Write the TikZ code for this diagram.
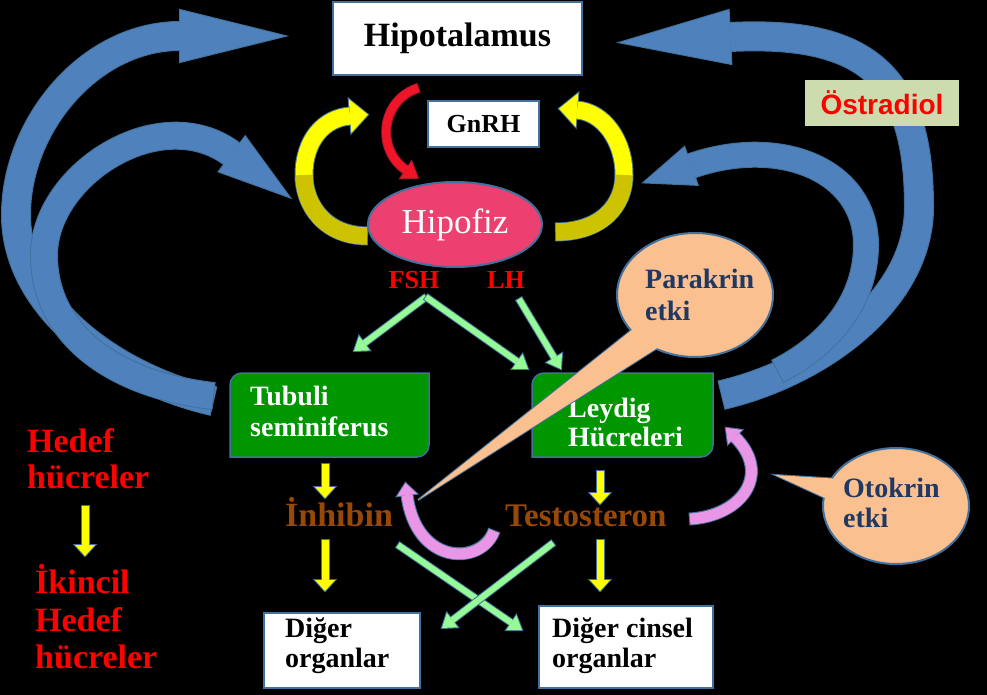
\documentclass[tikz,border=0pt]{standalone}
\usepackage{fontspec}
\setmainfont{Liberation Serif}
\newfontfamily\arialf{Liberation Sans}
\usetikzlibrary{calc,shapes.geometric}
\definecolor{edgec}{RGB}{65,113,156}
\definecolor{arrblue}{RGB}{79,129,189}
\definecolor{yel}{RGB}{255,255,0}
\definecolor{yeld}{RGB}{205,195,0}
\definecolor{hipo}{RGB}{236,64,112}
\definecolor{grbox}{RGB}{0,150,0}
\definecolor{lgr}{RGB}{150,250,150}
\definecolor{pinkv}{RGB}{233,150,230}
\definecolor{peach}{RGB}{250,192,144}
\definecolor{ostbox}{RGB}{205,220,175}
\definecolor{brownt}{RGB}{152,72,7}
\definecolor{navyt}{RGB}{31,56,100}
\definecolor{redt}{RGB}{255,0,0}
\definecolor{redarr}{RGB}{240,20,40}
\definecolor{redarrd}{RGB}{170,20,40}

% curved block arrow: #1 path, #2 end point, #3 last control, #4 width, #5 head half width, #6 head length, #7 fill, #8 border
\newcommand\carrow[8]{%
  \pgfmathsetmacro\cbw{#4+2}%
  \draw[draw=#8, line width=\cbw pt, shorten <=-1pt] #1;
  \coordinate (hT) at ($(#2)!-#6pt!(#3)$);
  \coordinate (hL) at ($(#2)!#5pt!90:(hT)$);
  \coordinate (hR) at ($(#2)!#5pt!-90:(hT)$);
  \draw[draw=#8, line width=2pt, line join=miter] (hL) -- (hT) -- (hR) -- cycle;
  \draw[draw=#7, line width=#4pt] #1;
  \fill[#7] (hL) -- (hT) -- (hR) -- cycle;
}
% straight block arrow: #1 start, #2 tip, #3 width, #4 head half width, #5 head length, #6 fill, #7 border
\newcommand\sarrow[7]{%
  \coordinate (sB) at ($(#2)!#5pt!(#1)$);
  \carrow{(#1) -- (sB)}{sB}{#1}{#3}{#4}{#5}{#6}{#7}%
}

\begin{document}
\begin{tikzpicture}[x=1pt,y=-1pt,
  wbox/.style={draw=edgec, fill=white, line width=1.5pt, inner sep=0pt},
  gbox/.style={draw=edgec, fill=grbox, line width=1.5pt},
  boxtxt/.style={font=\bfseries\fontsize{28}{30}\selectfont, inner sep=0pt, anchor=base west},
  bigtxt/.style={font=\bfseries\fontsize{34}{36}\selectfont, inner sep=0pt, anchor=base west},
  calltxt/.style={font=\bfseries\fontsize{28}{30}\selectfont, inner sep=0pt, anchor=base west, text=navyt},
  callout/.style={ellipse, draw=edgec, line width=2pt, fill=peach, inner sep=0pt},
]
\useasboundingbox (0,0) rectangle (987,695);
\fill[black] (0,0) rectangle (987,695);

% ---------- big blue arrows ----------
\coordinate (lo0) at (213,401); \coordinate (lo1) at (120,380); \coordinate (lo2) at (16,310);
\coordinate (lo3) at (16,215);  \coordinate (lo4) at (16,125);  \coordinate (lo5) at (90,36);
\coordinate (lo6) at (180,36);
\carrow{(lo0) .. controls (lo1) and (lo2) .. (lo3) .. controls (lo4) and (lo5) .. (lo6)}{lo6}{lo5}{28}{26}{105}{arrblue}{edgec}

\coordinate (li0) at (213,396); \coordinate (li1) at (115,385); \coordinate (li2) at (44,335);
\coordinate (li3) at (44,255);  \coordinate (li4) at (44,175);  \coordinate (li5) at (160,100);
\coordinate (li6) at (232,154);
\carrow{(li0) .. controls (li1) and (li2) .. (li3) .. controls (li4) and (li5) .. (li6)}{li6}{li5}{26}{22}{72}{arrblue}{edgec}

\coordinate (ro0) at (722,395); \coordinate (ro1) at (820,372); \coordinate (ro2) at (919,300);
\coordinate (ro3) at (919,207); \coordinate (ro4) at (919,80);  \coordinate (ro5) at (870,30);
\coordinate (ro6) at (730,37);
\carrow{(ro0) .. controls (ro1) and (ro2) .. (ro3) .. controls (ro4) and (ro5) .. (ro6)}{ro6}{ro5}{28}{27}{110}{arrblue}{edgec}

\coordinate (ri0) at (778,371); \coordinate (ri1) at (830,345); \coordinate (ri2) at (866,300);
\coordinate (ri3) at (866,245); \coordinate (ri4) at (866,170); \coordinate (ri5) at (780,135);
\coordinate (ri6) at (691,166);
\carrow{(ri0) .. controls (ri1) and (ri2) .. (ri3) .. controls (ri4) and (ri5) .. (ri6)}{ri6}{ri5}{24}{20}{50}{arrblue}{edgec}

% ---------- yellow loop arrows ----------
\coordinate (yl0) at (367,236); \coordinate (yl1) at (325,236); \coordinate (yl2) at (304,205);
\coordinate (yl3) at (304,175); \coordinate (yl4) at (304,140); \coordinate (yl5) at (324,118);
\coordinate (yl6) at (350,116);
\carrow{(yl0) .. controls (yl1) and (yl2) .. (yl3) .. controls (yl4) and (yl5) .. (yl6)}{yl6}{yl5}{17}{17}{18}{yel}{edgec}
\draw[draw=yeld, line width=17pt] (yl0) .. controls (yl1) and (yl2) .. (yl3);

\coordinate (yr0) at (556,232); \coordinate (yr1) at (602,232); \coordinate (yr2) at (624,205);
\coordinate (yr3) at (624,175); \coordinate (yr4) at (624,140); \coordinate (yr5) at (603,112);
\coordinate (yr6) at (577,110);
\carrow{(yr0) .. controls (yr1) and (yr2) .. (yr3) .. controls (yr4) and (yr5) .. (yr6)}{yr6}{yr5}{17}{17}{18}{yel}{edgec}
\draw[draw=yeld, line width=17pt] (yr0) .. controls (yr1) and (yr2) .. (yr3);

% ---------- red GnRH arrow ----------
\coordinate (r0) at (418,88); \coordinate (r1) at (380,100); \coordinate (r2) at (376,150);
\coordinate (r3) at (406,170);
\carrow{(r0) .. controls (r1) and (r2) .. (r3)}{r3}{r2}{8}{10}{14}{redarr}{redarrd}

% ---------- boxes ----------
\node[wbox, minimum width=249, minimum height=73, font=\bfseries\fontsize{34}{36}\selectfont] (hyp) at (457.5,38.5) {Hipotalamus};
\node[wbox, minimum width=111, minimum height=46, font=\bfseries\fontsize{26}{28}\selectfont] (gnrh) at (483.5,124) {GnRH};
\node[ellipse, draw=edgec, line width=2pt, fill=hipo, minimum width=174, minimum height=85, inner sep=0pt,
      text=white, font=\fontsize{35}{37}\selectfont] (hipofiz) at (455,224.5) {Hipofiz};
\node[inner sep=0pt, text=redt, font=\bfseries\fontsize{26}{28}\selectfont] (fsh) at (414,280) {FSH};
\node[inner sep=0pt, text=redt, font=\bfseries\fontsize{26}{28}\selectfont] (lh) at (506,280) {LH};
\node[fill=ostbox, minimum width=154, minimum height=46, inner sep=0pt, text=redt,
      font=\arialf\bfseries\fontsize{28}{30}\selectfont] (ost) at (882,103) {Östradiol};

\path[gbox] (230,385) arc[start angle=180, end angle=270, radius=12] -- (429,373) -- (429,445)
   arc[start angle=0, end angle=90, radius=12] -- (230,457) -- cycle;
\node[inner sep=0pt, minimum width=199, minimum height=84] (tub) at (329.5,415) {};
\path[gbox] (532,385) arc[start angle=180, end angle=270, radius=12] -- (713,373) -- (713,445)
   arc[start angle=0, end angle=90, radius=12] -- (532,457) -- cycle;
\node[inner sep=0pt, minimum width=181, minimum height=84] (ley) at (622.5,415) {};

\node[boxtxt, text=white] (tub1) at (250,405) {Tubuli};
\node[boxtxt, text=white] (tub2) at (250,436) {seminiferus};
\node[boxtxt, text=white] (ley1) at (568,417) {Leydig};
\node[boxtxt, text=white] (ley2) at (568,446) {Hücreleri};

\node[wbox, minimum width=156, minimum height=75] (dor) at (342,650.5) {};
\node[wbox, minimum width=174, minimum height=82] (dco) at (626,647) {};
\node[boxtxt] (dor1) at (285,637) {Diğer};
\node[boxtxt] (dor2) at (285,667) {organlar};
\node[boxtxt] (dco1) at (552,637) {Diğer cinsel};
\node[boxtxt] (dco2) at (552,667) {organlar};

% ---------- hormone labels ----------
\node[bigtxt, text=brownt] (inh) at (285,526) {İnhibin};
\node[bigtxt, text=brownt, font=\bfseries\fontsize{33}{35}\selectfont] (tes) at (505,526) {Testosteron};

\node[bigtxt, text=redt] (hed1) at (27,452) {Hedef};
\node[bigtxt, text=redt] (hed2) at (27,488) {hücreler};
\node[bigtxt, text=redt] (ik1) at (35,593) {İkincil};
\node[bigtxt, text=redt] (ik2) at (35,631) {Hedef};
\node[bigtxt, text=redt] (ik3) at (35,668) {hücreler};

% ---------- light green arrows ----------
\coordinate (fshA) at (426,297); \coordinate (tubT) at (354,351);
\coordinate (leyT1) at (528,369); \coordinate (lhA) at (519,299); \coordinate (leyT2) at (561,369);
\coordinate (inhA) at (398,545); \coordinate (dcoT) at (522,630);
\coordinate (tesA) at (553,543); \coordinate (dorT) at (442,628);
\sarrow{fshA}{tubT}{6}{9}{13}{lgr}{edgec}
\sarrow{fshA}{leyT1}{6}{9}{13}{lgr}{edgec}
\sarrow{lhA}{leyT2}{6}{9}{13}{lgr}{edgec}
\sarrow{inhA}{dcoT}{6}{9}{13}{lgr}{edgec}
\sarrow{tesA}{dorT}{6}{9}{13}{lgr}{edgec}

% ---------- yellow down arrows ----------
\coordinate (ya1) at (325,464); \coordinate (yt1) at (325,498);
\coordinate (ya2) at (325,540); \coordinate (yt2) at (325,591);
\coordinate (ya3) at (600,471); \coordinate (yt3) at (600,504);
\coordinate (ya4) at (600,540); \coordinate (yt4) at (600,591);
\coordinate (ya5) at (85,506);  \coordinate (yt5) at (85,556);
\sarrow{ya1}{yt1}{7}{10}{11}{yel}{edgec}
\sarrow{ya2}{yt2}{7}{10}{11}{yel}{edgec}
\sarrow{ya3}{yt3}{7}{10}{11}{yel}{edgec}
\sarrow{ya4}{yt4}{7}{10}{11}{yel}{edgec}
\sarrow{ya5}{yt5}{7}{10}{11}{yel}{edgec}

% ---------- pink curved arrows ----------
\coordinate (p0) at (494,531); \coordinate (p1) at (482,566); \coordinate (p2) at (416,566);
\coordinate (p3) at (407,495);
\carrow{(p0) .. controls (p1) and (p2) .. (p3)}{p3}{p2}{11}{10}{12}{pinkv}{edgec}
\coordinate (q0) at (690,519); \coordinate (q1) at (742,516); \coordinate (q2) at (772,474);
\coordinate (q3) at (735,437);
\carrow{(q0) .. controls (q1) and (q2) .. (q3)}{q3}{q2}{11}{10}{13}{pinkv}{edgec}

% ---------- callouts ----------
\coordinate (parT) at (418,500); \coordinate (parA) at (638,325); \coordinate (parB) at (662,345);
\draw[draw=edgec, line width=2pt, line join=miter] (parA) -- (parT) -- (parB);
\node[callout, minimum width=156, minimum height=124] (par) at (695,295) {};
\fill[peach] (parA) -- (parT) -- (parB) -- cycle;
\node[calltxt] (par1) at (645,288) {Parakrin};
\node[calltxt] (par2) at (645,320) {etki};

\coordinate (otoT) at (775,475); \coordinate (otoA) at (840,479); \coordinate (otoB) at (836,503);
\draw[draw=edgec, line width=2pt, line join=miter] (otoA) -- (otoT) -- (otoB);
\node[callout, minimum width=146, minimum height=116] (oto) at (896,506) {};
\fill[peach] (otoA) -- (otoT) -- (otoB) -- cycle;
\node[calltxt] (oto1) at (843,497) {Otokrin};
\node[calltxt] (oto2) at (843,527) {etki};
\end{tikzpicture}
\end{document}
